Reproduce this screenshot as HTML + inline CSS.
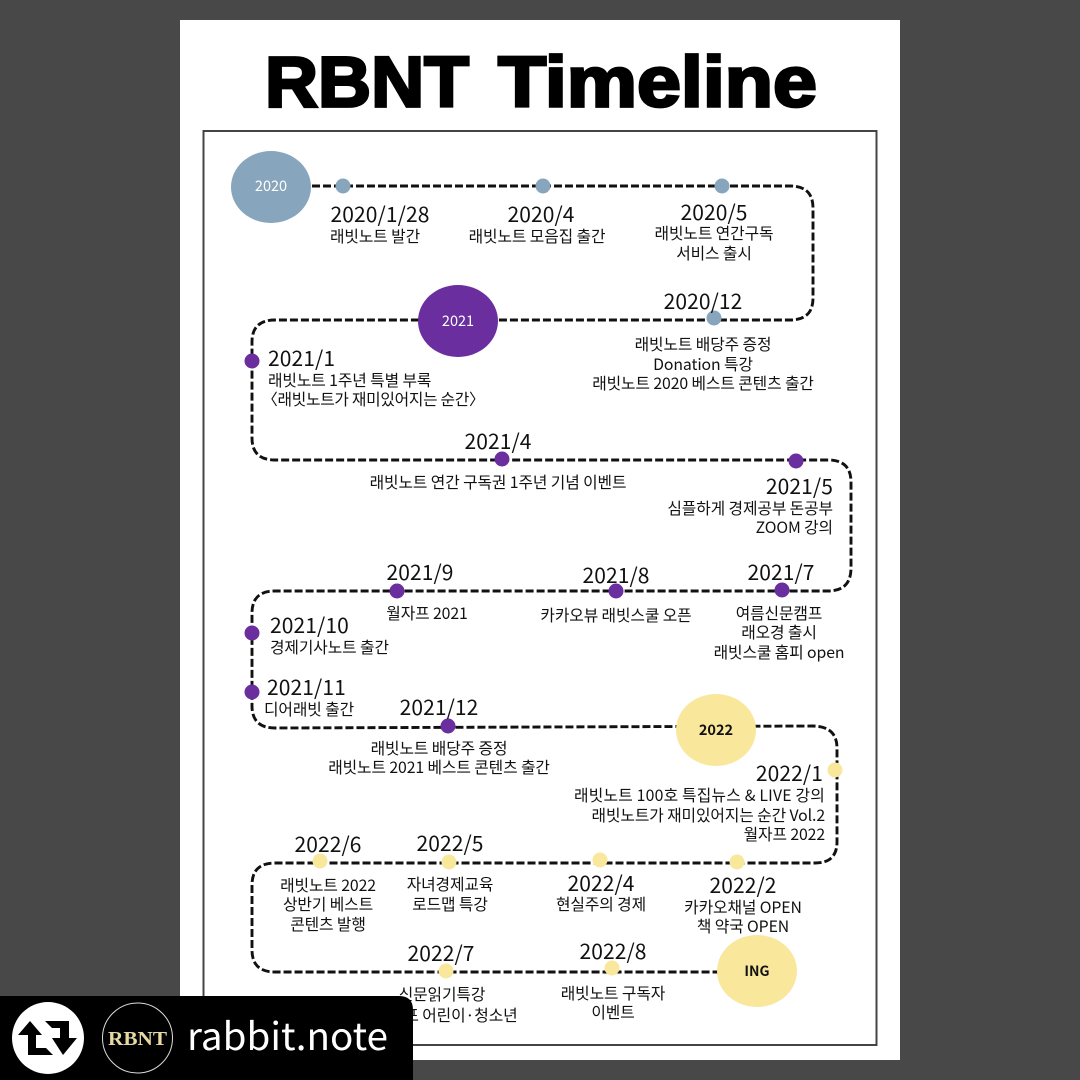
<!DOCTYPE html>
<html><head><meta charset="utf-8"><style>
html,body{margin:0;padding:0;background:#484848}
svg{display:block}
text{font-family:"Noto Sans CJK KR","Liberation Sans",sans-serif;fill:#111}
.d{font-size:21px;font-weight:400;letter-spacing:.1px}
.l{font-size:15.8px;letter-spacing:-.1px}
.m{text-anchor:middle}.e{text-anchor:end}
</style></head><body>
<svg width="1080" height="1080" viewBox="0 0 1080 1080" xmlns="http://www.w3.org/2000/svg">
<rect width="1080" height="1080" fill="#484848"/>
<rect x="180" y="20" width="720" height="1040" fill="#fff"/>
<text x="265" y="106.500" font-size="71" stroke="#000" stroke-width="2.800" textLength="204" lengthAdjust="spacingAndGlyphs" style="fill:#000;font-family:'Liberation Sans',sans-serif;font-weight:700">RBNT</text>
<text x="498" y="106.500" font-size="71" stroke="#000" stroke-width="2.800" textLength="319" lengthAdjust="spacingAndGlyphs" style="fill:#000;font-family:'Liberation Sans',sans-serif;font-weight:700">Timeline</text>
<rect x="203.500" y="131" width="673" height="914" fill="#fff" stroke="#444" stroke-width="2"/>
<path d="M312 186H790Q813 186 813 208V298Q813 320 790 320H275Q252 320 252 342V438Q252 460 275 460H828Q851 460 851 482V568Q851 591 828 591H275Q252 591 252 613V706Q252 728 275 728L812 726Q837 726 837 748V842Q837 863 815 863H275Q252 863 252 885V950Q252 972 275 972H720" fill="none" stroke="#111" stroke-width="2.900" stroke-dasharray="8 3"/>
<ellipse cx="271" cy="187" rx="40" ry="36" fill="#87a5bd"/>
<ellipse cx="458" cy="321" rx="40" ry="36" fill="#6a2e9f"/>
<ellipse cx="716" cy="730" rx="40" ry="36" fill="#f9e79b"/>
<ellipse cx="757" cy="971" rx="40" ry="36" fill="#f9e79b"/>
<g fill="#87a5bd"><circle cx="343" cy="186" r="7.500"/><circle cx="543" cy="186" r="7.500"/><circle cx="722" cy="186" r="7.500"/><circle cx="714" cy="318" r="7.500"/></g>
<g fill="#6a2e9f"><circle cx="252" cy="361" r="7.500"/><circle cx="502" cy="459" r="7.500"/><circle cx="796" cy="461" r="7.500"/><circle cx="782" cy="590" r="7.500"/><circle cx="616" cy="591" r="7.500"/><circle cx="397" cy="591" r="7.500"/><circle cx="252" cy="633" r="7.500"/><circle cx="252" cy="692" r="7.500"/><circle cx="448" cy="726" r="7.500"/></g>
<g fill="#f9e79b"><circle cx="835" cy="770" r="7.500"/><circle cx="737" cy="862" r="7.500"/><circle cx="600" cy="860" r="7.500"/><circle cx="449" cy="862" r="7.500"/><circle cx="320" cy="861" r="7.500"/><circle cx="446" cy="971" r="7.500"/><circle cx="612" cy="968" r="7.500"/></g>
<text x="271" y="191" font-size="14.500" class="m" style="fill:#fff">2020</text>
<text x="458" y="326" font-size="14.500" class="m" style="fill:#fff">2021</text>
<text x="716" y="735" font-size="14.500" font-weight="700" class="m">2022</text>
<text x="757" y="976" font-size="14" font-weight="700" class="m">ING</text>

<text class="d m" x="380" y="222">2020/1/28</text><text class="l m" x="375" y="242">래빗노트 발간</text>
<text class="d m" x="541" y="222">2020/4</text><text class="l m" x="537" y="242">래빗노트 모음집 출간</text>
<text class="d m" x="714" y="220">2020/5</text><text class="l m" x="714" y="239">래빗노트 연간구독</text><text class="l m" x="714" y="259">서비스 출시</text>
<text class="d m" x="703" y="309">2020/12</text><text class="l m" x="703" y="350">래빗노트 배당주 증정</text><text class="l m" x="703" y="370">Donation 특강</text><text class="l m" x="703" y="389">래빗노트 2020 베스트 콘텐츠 출간</text>
<text class="d" x="268" y="366">2021/1</text><text class="l" x="268" y="386">래빗노트 1주년 특별 부록</text><text class="l" x="262" y="405" style="letter-spacing:-.3px">〈래빗노트가 재미있어지는 순간〉</text>
<text class="d m" x="498" y="449">2021/4</text><text class="l m" x="498" y="488">래빗노트 연간 구독권 1주년 기념 이벤트</text>
<text class="d e" x="833" y="494">2021/5</text><text class="l e" x="833" y="514">심플하게 경제공부 돈공부</text><text class="l e" x="833" y="533">ZOOM 강의</text>
<text class="d m" x="781" y="580">2021/7</text><text class="l m" x="779" y="619">여름신문캠프</text><text class="l m" x="779" y="638">래오경 출시</text><text class="l m" x="779" y="658">래빗스쿨 홈피 open</text>
<text class="d m" x="616" y="583">2021/8</text><text class="l m" x="616" y="621">카카오뷰 래빗스쿨 오픈</text>
<text class="d m" x="420" y="580">2021/9</text><text class="l m" x="427" y="619">월자프 2021</text>
<text class="d" x="270" y="633">2021/10</text><text class="l" x="270" y="653">경제기사노트 출간</text>
<text class="d" x="267" y="695">2021/11</text><text class="l" x="264" y="715">디어래빗 출간</text>
<text class="d m" x="439" y="715">2021/12</text><text class="l m" x="439" y="754">래빗노트 배당주 증정</text><text class="l m" x="439" y="773">래빗노트 2021 베스트 콘텐츠 출간</text>
<text class="d e" x="823" y="781">2022/1</text><text class="l e" x="825" y="801" style="letter-spacing:.2px">래빗노트 100호 특집뉴스 &amp; LIVE 강의</text><text class="l e" x="825" y="821">래빗노트가 재미있어지는 순간 Vol.2</text><text class="l e" x="825" y="840">월자프 2022</text>
<text class="d m" x="328" y="852">2022/6</text><text class="l m" x="328" y="891">래빗노트 2022</text><text class="l m" x="328" y="910">상반기 베스트</text><text class="l m" x="328" y="930">콘텐츠 발행</text>
<text class="d m" x="450" y="851">2022/5</text><text class="l m" x="450" y="890">자녀경제교육</text><text class="l m" x="450" y="910">로드맵 특강</text>
<text class="d m" x="601" y="891">2022/4</text><text class="l m" x="601" y="910">현실주의 경제</text>
<text class="d m" x="743" y="893">2022/2</text><text class="l m" x="743" y="913">카카오채널 OPEN</text><text class="l m" x="743" y="932">책 약국 OPEN</text>
<text class="d m" x="441" y="961">2022/7</text><text class="l m" x="442" y="1000">신문읽기특강</text><text class="l m" x="461" y="1021">포 어린이·청소년</text>
<text class="d m" x="613" y="959">2022/8</text><text class="l m" x="613" y="999">래빗노트 구독자</text><text class="l m" x="613" y="1018">이벤트</text>

<path d="M0 996H399Q413 996 413 1010V1080H0Z" fill="#000"/>
<circle cx="48" cy="1038" r="36" fill="#fff"/>
<polygon points="30,1021 42,1035 36,1035 36,1048 46,1048 53,1055 28,1055 28,1035 18,1035" fill="#000"/>
<polygon points="45,1021 69,1021 69,1038 77,1038 63,1055 52,1038 60,1038 60,1028 52,1028" fill="#000"/>
<circle cx="137.500" cy="1038" r="35" fill="#000" stroke="#ddd" stroke-width="1"/>
<text x="137.500" y="1045" font-size="20" font-weight="700" class="m" textLength="59" lengthAdjust="spacingAndGlyphs" style="font-family:'Liberation Serif',serif;fill:#e6d9a2">RBNT</text>
<text x="187" y="1050" font-size="38" textLength="201" lengthAdjust="spacingAndGlyphs" style="fill:#fff">rabbit.note</text>
</svg>
</body></html>
